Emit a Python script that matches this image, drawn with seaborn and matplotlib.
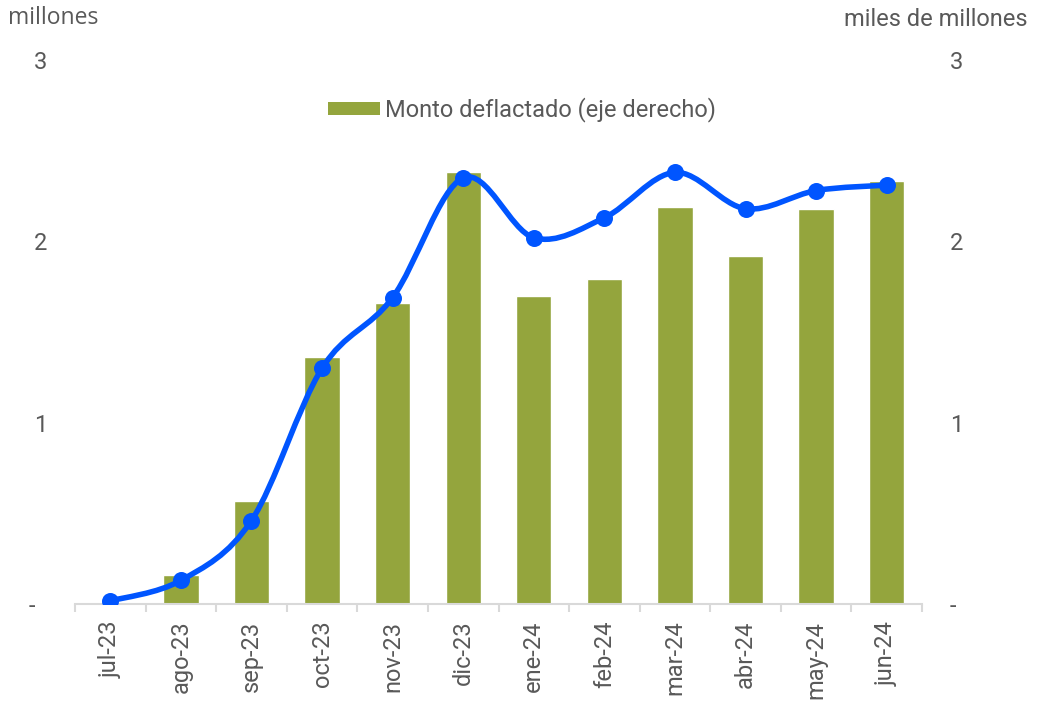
import numpy as np
import pandas as pd
import matplotlib
matplotlib.use("Agg")
import matplotlib.pyplot as plt
from matplotlib.path import Path
from matplotlib.patches import PathPatch, Patch
import seaborn as sns

months = ["jul-23", "ago-23", "sep-23", "oct-23", "nov-23", "dic-23",
          "ene-24", "feb-24", "mar-24", "abr-24", "may-24", "jun-24"]
monto_deflactado = [0.0, 0.16, 0.57, 1.36, 1.66, 2.38, 1.70, 1.79, 2.19, 1.92, 2.18, 2.33]
cantidad = [0.017, 0.13, 0.46, 1.30, 1.69, 2.35, 2.02, 2.13, 2.38, 2.18, 2.28, 2.31]
ytick_vals = [0, 1, 2, 3]
ytick_labels_left = ["-  ", "1", "2", "3"]
ytick_labels_right = ["-", "1", "2", "3"]

BAR_COLOR = "#94A53D"
LINE_COLOR = "#0055FF"
TEXT_COLOR = "#595959"
FS = 17

sns.set_theme(style="white")
plt.rcParams["font.family"] = ["Roboto", "DejaVu Sans"]

df = pd.DataFrame({"mes": months, "monto": monto_deflactado, "cantidad": cantidad})

fig = plt.figure(figsize=(10.37, 7.01), dpi=100)
ax = fig.add_axes([75 / 1037, (701 - 604) / 701, (922 - 75) / 1037, (604 - 60) / 701])
ax2 = ax.twinx()

# bars on the right axis
sns.barplot(data=df, x="mes", y="monto", color=BAR_COLOR, width=0.5,
            saturation=1, ax=ax2, zorder=2)

# smooth line on the left axis (Catmull-Rom through data points)
x = np.arange(len(cantidad), dtype=float)
y = np.asarray(cantidad, dtype=float)
verts = [(x[0], y[0])]
codes = [Path.MOVETO]
n = len(x)
for i in range(n - 1):
    p0 = np.array([x[max(i - 1, 0)], y[max(i - 1, 0)]])
    p1 = np.array([x[i], y[i]])
    p2 = np.array([x[i + 1], y[i + 1]])
    p3 = np.array([x[min(i + 2, n - 1)], y[min(i + 2, n - 1)]])
    c1 = p1 + (p2 - p0) / 6.0
    c2 = p2 - (p3 - p1) / 6.0
    verts += [tuple(c1), tuple(c2), tuple(p2)]
    codes += [Path.CURVE4] * 3
ax.add_patch(PathPatch(Path(verts, codes), facecolor="none", edgecolor=LINE_COLOR,
                       lw=4, zorder=3, capstyle="round", joinstyle="round"))
sns.scatterplot(data=df, x="mes", y="cantidad", color=LINE_COLOR, s=150,
                edgecolor=LINE_COLOR, linewidth=0, ax=ax, zorder=4)

ax.set_zorder(ax2.get_zorder() + 1)
ax.patch.set_visible(False)

for a, labs in ((ax, ytick_labels_left), (ax2, ytick_labels_right)):
    a.set_ylim(0, 3)
    a.set_yticks(ytick_vals)
    a.set_yticklabels(labs)
    a.set_xlabel("")
    a.set_ylabel("")
    for s in a.spines.values():
        s.set_visible(False)
    a.tick_params(axis="y", length=0, labelsize=FS, colors=TEXT_COLOR, pad=20)

ax.set_xlim(-0.5, len(months) - 0.5)
ax.spines["bottom"].set_visible(True)
ax.spines["bottom"].set_color("#D9D9D9")
ax.spines["bottom"].set_linewidth(1.5)
ax.set_xticks(range(len(months)))
ax.set_xticklabels(months, rotation=90)
ax.set_xticks(np.arange(-0.5, len(months)), minor=True)
ax.tick_params(axis="x", which="major", length=0, labelsize=FS, colors=TEXT_COLOR,
               pad=12, bottom=True, labelbottom=True)
ax.tick_params(axis="x", which="minor", length=6, width=1.5, color="#D9D9D9",
               direction="out", bottom=True)

fig.text(8 / 1037, 1 - 18 / 701, "millones", fontsize=16.5, color=TEXT_COLOR,
         family=["Open Sans", "DejaVu Sans"], ha="left", va="center")
fig.text(1028 / 1037, 1 - 19 / 701, "miles de millones", fontsize=FS, color=TEXT_COLOR,
         ha="right", va="center")

handle = Patch(facecolor=BAR_COLOR, edgecolor="none", label="Monto deflactado (eje derecho)")
leg = fig.legend(handles=[handle], loc="center", bbox_to_anchor=(522 / 1037, 1 - 110 / 701),
                 frameon=False, fontsize=FS, handlelength=2.2, handleheight=0.5,
                 handletextpad=0.25, labelcolor=TEXT_COLOR, borderpad=0, borderaxespad=0)

fig.savefig("out.png", dpi=100)
